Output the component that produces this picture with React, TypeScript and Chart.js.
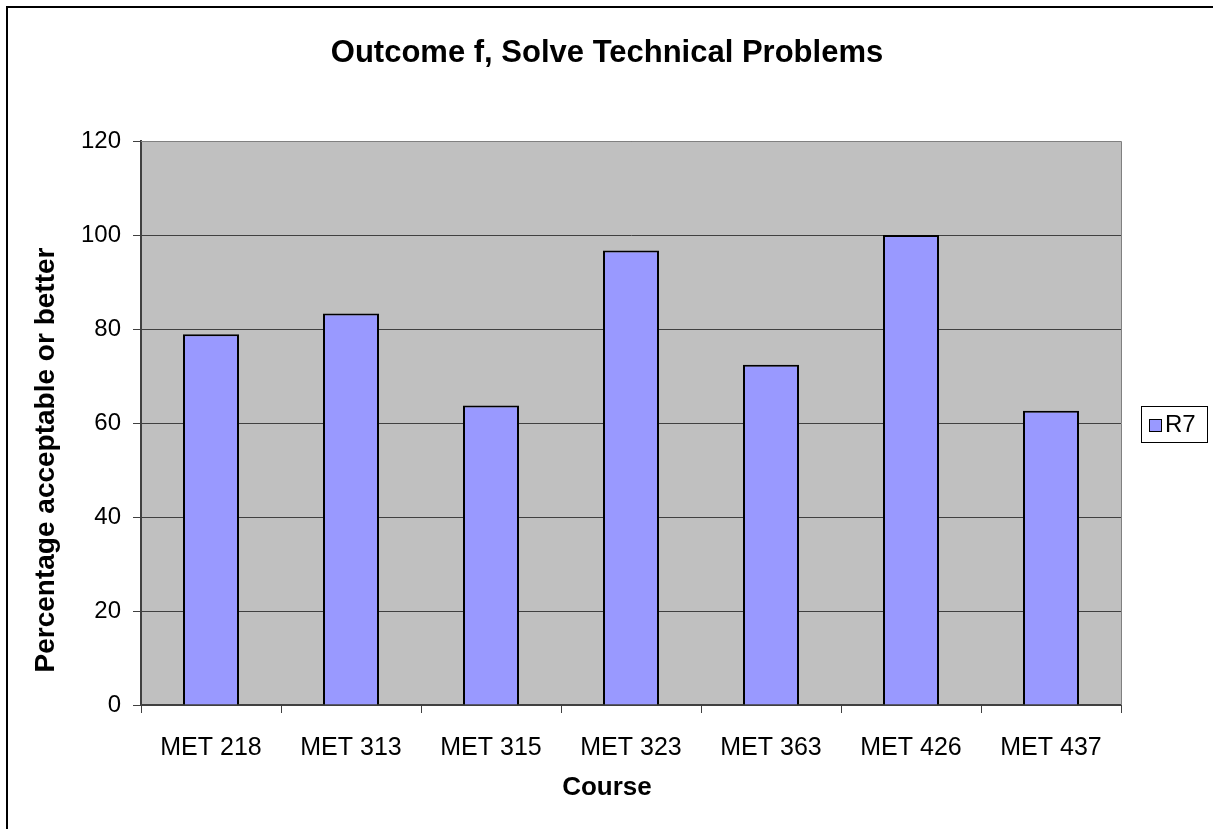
import React, { useEffect, useRef } from "react";
import { Chart, registerables } from "chart.js";

Chart.register(...registerables);

const categories = ["MET 218", "MET 313", "MET 315", "MET 323", "MET 363", "MET 426", "MET 437"];
const seriesName = "R7";
const seriesValues = [78.9, 83.3, 63.7, 96.7, 72.4, 100, 62.6];
const yTicks = [0, 20, 40, 60, 80, 100, 120];
const chartTitle = "Outcome f, Solve Technical Problems";
const xTitle = "Course";
const yTitle = "Percentage acceptable or better";

const W = 1213;
const H = 829;
const PLOT_TOP = 141;
const PLOT_LEFT = 141;
const PLOT_RIGHT = 1121;
const PLOT_BOTTOM = 705;
const CHART_CENTER_X = 607;
const FONT = "Arial, 'Liberation Sans', sans-serif";
const BAR_COLOR = "#9999FF";

const decorPlugin = {
  id: "decor",
  beforeDraw(chart: any) {
    const { ctx, chartArea } = chart;
    ctx.save();
    ctx.fillStyle = "#FFFFFF";
    ctx.fillRect(0, 0, W, H);
    ctx.strokeStyle = "#000000";
    ctx.lineWidth = 2;
    ctx.strokeRect(7, 7, W + 20, H + 20);
    ctx.fillStyle = "#C0C0C0";
    ctx.fillRect(chartArea.left, chartArea.top, chartArea.right - chartArea.left, chartArea.bottom - chartArea.top);
    ctx.restore();
  },
  afterDraw(chart: any) {
    const { ctx, chartArea } = chart;
    ctx.save();
    ctx.strokeStyle = "#808080";
    ctx.lineWidth = 1;
    ctx.beginPath();
    ctx.moveTo(chartArea.left, chartArea.top + 0.5);
    ctx.lineTo(chartArea.right + 0.5, chartArea.top + 0.5);
    ctx.lineTo(chartArea.right + 0.5, chartArea.bottom);
    ctx.stroke();

    ctx.fillStyle = "#000000";
    ctx.textAlign = "center";
    ctx.textBaseline = "middle";
    ctx.font = `bold 31px ${FONT}`;
    ctx.fillText(chartTitle, CHART_CENTER_X, 53);

    ctx.font = `bold 26px ${FONT}`;
    ctx.fillText(xTitle, CHART_CENTER_X, 788);

    ctx.save();
    ctx.translate(46, 460);
    ctx.rotate(-Math.PI / 2);
    ctx.font = `bold 28px ${FONT}`;
    ctx.fillText(yTitle, 0, 0);
    ctx.restore();

    // legend
    const lx = 1141, ly = 406, lw = 66, lh = 36;
    ctx.fillStyle = "#FFFFFF";
    ctx.fillRect(lx, ly, lw, lh);
    ctx.strokeStyle = "#000000";
    ctx.lineWidth = 1;
    ctx.strokeRect(lx + 0.5, ly + 0.5, lw, lh);
    ctx.fillStyle = BAR_COLOR;
    ctx.fillRect(lx + 8, ly + 13, 12, 12);
    ctx.strokeRect(lx + 8.5, ly + 13.5, 12, 12);
    ctx.fillStyle = "#000000";
    ctx.textAlign = "left";
    ctx.font = `24px ${FONT}`;
    ctx.fillText(chart.data.datasets[0].label, lx + 24, ly + lh / 2 + 1);
    ctx.restore();
  },
};

export default function App() {
  const ref = useRef<HTMLCanvasElement>(null);
  useEffect(() => {
    document.body.style.margin = "0";
    const chart = new Chart(ref.current!, {
      type: "bar",
      data: {
        labels: categories,
        datasets: [
          {
            label: seriesName,
            data: seriesValues,
            backgroundColor: BAR_COLOR,
            borderColor: "#000000",
            borderWidth: 2,
            barPercentage: 0.4,
            categoryPercentage: 1,
          },
        ],
      },
      options: {
        responsive: false,
        animation: false,
        devicePixelRatio: 1,
        layout: { padding: { left: 0, top: PLOT_TOP, right: W - PLOT_RIGHT, bottom: 0 } },
        plugins: { legend: { display: false }, title: { display: false }, tooltip: { enabled: false } },
        scales: {
          x: {
            offset: true,
            grid: { display: true, drawOnChartArea: false, drawTicks: true, tickLength: 8, color: "#404040", offset: true },
            border: { display: true, color: "#404040", width: 2 },
            ticks: { color: "#000000", font: { family: FONT, size: 25 }, padding: 20, maxRotation: 0, autoSkip: false },
            afterFit(scale: any) {
              scale.height = H - PLOT_BOTTOM;
            },
          },
          y: {
            min: 0,
            max: 120,
            afterBuildTicks(scale: any) {
              scale.ticks = yTicks.map((v) => ({ value: v }));
            },
            grid: { color: "#404040", lineWidth: 1, tickLength: 8 },
            border: { display: true, color: "#404040", width: 2 },
            ticks: { color: "#000000", font: { family: FONT, size: 24 }, padding: 12 },
            afterFit(scale: any) {
              scale.width = PLOT_LEFT;
            },
          },
        },
      },
      plugins: [decorPlugin],
    });
    return () => chart.destroy();
  }, []);
  return (
    <div style={{ position: "absolute", left: 0, top: 0, width: W, height: H }}>
      <canvas ref={ref} width={W} height={H} style={{ width: W, height: H, display: "block" }} />
    </div>
  );
}
